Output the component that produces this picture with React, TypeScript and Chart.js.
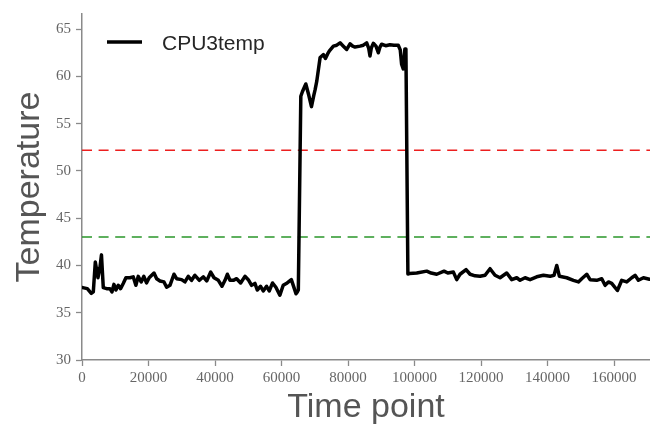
import { useEffect, useRef } from "react";
import { Chart, registerables } from "chart.js";

Chart.register(...registerables);

const seriesLabel = "CPU3temp";
const xTitle = "Time point";
const yTitle = "Temperature";

const timePoints = [
  200, 1600, 2800, 3400, 4000, 4800, 5400, 5850, 6400, 7400, 8400, 9000, 9600, 10200, 10900, 11600,
  12400, 13200, 14400, 15400, 16200, 16900, 17800, 18600, 19400, 20200, 21650, 22450, 23450, 24650,
  25450, 26450, 27650, 28450, 29950, 30950, 31950, 32950, 33950, 35300, 36500, 37500, 38700, 39700,
  41000, 42100, 43000, 43700, 44500, 45500, 46500, 47700, 49000, 50000, 51000, 52000, 52700, 53700,
  54500, 55500, 56300, 57300, 58300, 59500, 60500, 61700, 62950, 63750, 64350, 64750, 65050,
  65800, 66300, 67300, 68200, 69000, 69700, 70100, 70600, 71600, 72600, 73200, 73900, 74400,
  75600, 76600, 77600, 78600, 79600, 80600, 81400, 82100, 83600, 84600, 85600, 86200, 86600,
  87000, 87600, 88400, 89100, 89600, 90100, 91300, 92600, 93800, 95100, 95700, 96100, 96600,
  97100, 97400, 98000, 98500, 100650, 103660, 105000, 106670, 108870, 110000, 111680, 112680,
  113680, 115490, 116690, 118200, 119700, 121200, 122700, 124200, 125710, 127720, 129220, 130730,
  131730, 133230, 134740, 136740, 138750, 140750, 141950, 142760, 143560, 145760, 147770, 149270,
  150270, 151780, 152780, 154790, 156290, 157290, 158290, 159290, 161000, 162300, 163800, 165310,
  166310, 167310, 168820, 170620,
];

const cpu3Temp = [
  37.66, 37.55, 37.05, 37.2, 40.36, 38.7, 39.8, 41.12, 37.66, 37.55, 37.55, 37.2, 38.0, 37.4, 37.9, 37.55,
  38.1, 38.7, 38.7, 38.8, 37.9, 38.85, 38.26, 38.85, 38.15, 38.7, 39.2, 38.6, 38.36, 38.26,
  37.7, 37.9, 39.07, 38.6, 38.5, 38.26, 38.85, 38.43, 38.96, 38.43, 38.8, 38.36, 39.3, 38.7,
  38.43, 37.8, 38.43, 39.07, 38.43, 38.43, 38.6, 38.15, 38.85, 38.5, 37.9, 38.1, 37.4, 37.8,
  37.3, 37.8, 37.3, 38.15, 37.7, 36.85, 37.9, 38.15, 38.5, 37.66, 37.0, 37.2, 37.4,
  57.9, 58.4, 59.2, 58.0, 56.8, 58.0, 58.6, 59.5, 62.0, 62.3, 61.9, 62.4, 62.7,
  63.2, 63.3, 63.55, 63.2, 62.85, 63.45, 63.2, 63.1, 63.2, 63.3, 63.55, 63.0, 62.15,
  63.0, 63.5, 63.2, 62.5, 63.1, 63.4, 63.25, 63.35, 63.3, 63.3, 62.8, 61.3, 60.8,
  62.9, 62.9, 39.1, 39.14, 39.2, 39.4, 39.2, 39.07, 39.4, 39.2, 39.3, 38.5,
  39.07, 39.56, 39.07, 38.9, 38.85, 38.96, 39.66, 38.96, 38.7, 39.2, 38.5, 38.7,
  38.43, 38.7, 38.5, 38.8, 38.96, 38.85, 38.96, 40.0, 38.85, 38.7, 38.43, 38.26,
  38.6, 39.07, 38.5, 38.43, 38.6, 37.9, 38.26, 38.1, 37.35, 38.43, 38.26, 38.7,
  38.96, 38.43, 38.7, 38.55,
];

const upperThreshold = 52.2;
const lowerThreshold = 43;

const xTicks = [0, 20000, 40000, 60000, 80000, 100000, 120000, 140000, 160000];
const yTicks = [30, 35, 40, 45, 50, 55, 60, 65];
const xMin = 0;
const xMax = 170800;
const yMin = 30;
const yMax = 66.6;

const legendPlugin = {
  id: "insideLegend",
  afterDatasetsDraw(chart: any) {
    const { ctx, chartArea } = chart;
    const ds = chart.data.datasets[0];
    const y = chartArea.top + 28;
    const x0 = chartArea.left + 25;
    ctx.save();
    ctx.strokeStyle = ds.borderColor;
    ctx.lineWidth = 3.5;
    ctx.lineCap = "butt";
    ctx.beginPath();
    ctx.moveTo(x0, y);
    ctx.lineTo(x0 + 35, y);
    ctx.stroke();
    ctx.fillStyle = "#262626";
    ctx.font = '21px "Liberation Sans", Arial, sans-serif';
    ctx.textBaseline = "alphabetic";
    ctx.textAlign = "left";
    ctx.fillText(ds.label, x0 + 55, y + 7.6);
    ctx.restore();
  },
};

export default function App() {
  const ref = useRef<HTMLCanvasElement | null>(null);

  useEffect(() => {
    if (!ref.current) return;
    const tickFont = { family: '"Liberation Serif", "Times New Roman", serif', size: 15 };
    const titleFont = { family: '"Liberation Sans", Arial, sans-serif', size: 34, lineHeight: 1 };
    const chart = new Chart(ref.current, {
      type: "line",
      data: {
        datasets: [
          {
            label: seriesLabel,
            data: timePoints.map((t, i) => ({ x: t, y: cpu3Temp[i] })),
            borderColor: "#000000",
            borderWidth: 3.5,
            pointRadius: 0,
            tension: 0,
            borderJoinStyle: "round",
            borderCapStyle: "round",
          },
          {
            label: "upper",
            data: [
              { x: xMin, y: upperThreshold },
              { x: xMax, y: upperThreshold },
            ],
            borderColor: "#ec1f1f",
            borderWidth: 1.5,
            borderDash: [10, 6.6],
            pointRadius: 0,
          },
          {
            label: "lower",
            data: [
              { x: xMin, y: lowerThreshold },
              { x: xMax, y: lowerThreshold },
            ],
            borderColor: "#2a962a",
            borderWidth: 1.5,
            borderDash: [10, 6.6],
            pointRadius: 0,
          },
        ],
      },
      options: {
        responsive: false,
        animation: false,
        layout: { padding: { top: 12.7, right: 0, left: 0, bottom: 0 } },
        plugins: {
          legend: { display: false },
          tooltip: { enabled: false },
        },
        scales: {
          x: {
            type: "linear",
            min: xMin,
            max: xMax,
            afterBuildTicks: (s: any) => {
              s.ticks = xTicks.map((v) => ({ value: v }));
            },
            afterFit: (s: any) => {
              s.height = 66;
            },
            grid: {
              drawOnChartArea: false,
              drawTicks: true,
              tickLength: 6,
              tickColor: "#8a8a8a",
              tickWidth: 1.3,
            },
            border: { display: true, color: "#8a8a8a", width: 1.5 },
            ticks: {
              color: "#666666",
              font: tickFont,
              padding: 3,
              maxRotation: 0,
              autoSkip: false,
              callback: (v: any) => String(v),
            },
            title: {
              display: true,
              text: xTitle,
              color: "#555555",
              font: titleFont,
              padding: { top: 0, bottom: 1.5 },
            },
          },
          y: {
            type: "linear",
            min: yMin,
            max: yMax,
            afterBuildTicks: (s: any) => {
              s.ticks = yTicks.map((v) => ({ value: v }));
            },
            afterFit: (s: any) => {
              s.width = 82;
            },
            grid: {
              drawOnChartArea: false,
              drawTicks: true,
              tickLength: 6,
              tickColor: "#8a8a8a",
              tickWidth: 1.3,
            },
            border: { display: true, color: "#8a8a8a", width: 1.5 },
            ticks: {
              color: "#666666",
              font: tickFont,
              padding: 5,
              autoSkip: false,
              callback: (v: any) => String(v),
            },
            title: {
              display: true,
              text: yTitle,
              color: "#555555",
              font: titleFont,
              padding: { top: 12.5, bottom: 0 },
            },
          },
        },
      },
      plugins: [legendPlugin],
    } as any);
    return () => chart.destroy();
  }, []);

  return (
    <div style={{ position: "absolute", left: 0, top: 0, width: 650, height: 426, background: "#fff" }}>
      <canvas ref={ref} width={650} height={426} style={{ display: "block" }} />
    </div>
  );
}
